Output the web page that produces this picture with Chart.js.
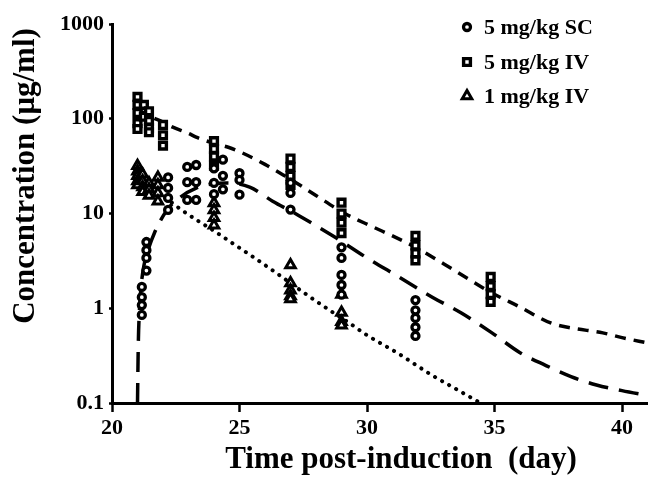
<!DOCTYPE html>
<html><head><meta charset="utf-8">
<script src="https://cdn.jsdelivr.net/npm/chart.js"></script>
<style>html,body{margin:0;padding:0;background:#fff}#wrap{width:656px;height:484px}</style>
</head><body><div id="wrap"><canvas id="c" width="656" height="484"></canvas></div>
<script>
// ---- axis ticks / labels ----
const xTicks = [20, 25, 30, 35, 40];
const yTicks = [0.1, 1, 10, 100, 1000];
const seriesNames = ['5 mg/kg SC', '5 mg/kg IV', '1 mg/kg IV'];
const xTitle = 'Time post-induction  (day)';
const yTitle = 'Concentration (\u03bcg/ml)';

// ---- observed: 5 mg/kg SC (circles) ----
const scDays = [21.17,21.17,21.17,21.17, 21.35,21.35,21.35,21.35, 22.2,22.2,22.2,22.2, 22.95,22.95,22.95, 23.3,23.3,23.3, 24,24,24, 24.35,24.35,24.35, 25,25,25, 27,27,27, 29,29,29,29,29, 31.9,31.9,31.9,31.9,31.9];
const scConc = [0.85,1.08,1.31,1.68, 2.5,3.4,4.1,5.0, 24,18.6,14.6,10.9, 31,21.4,13.9, 32.5,21.4,13.9, 30,21,16, 37,25,18, 26.6,22.6,15.8, 21,16.5,11, 4.4,3.4,2.25,1.76,1.39, 1.22,0.95,0.79,0.63,0.51];

// ---- observed: 5 mg/kg IV (squares) ----
const iv5Days = [21,21,21,21,21, 21.25,21.25, 21.45,21.45,21.45,21.45, 22,22,22, 24,24,24,24, 27,27,27,27, 29,29,29,29, 31.9,31.9,31.9,31.9, 34.85,34.85,34.85,34.85];
const iv5Conc = [170,140,115,90,78, 140,105, 120,95,80,72, 86,67,52, 58,48,40,32, 38,31,25,20, 13,10,8,6.2, 5.8,4.6,3.8,3.2, 2.14,1.71,1.41,1.17];

// ---- observed: 1 mg/kg IV (triangles) ----
const iv1Days = [21,21,21,21,21, 21.2,21.2,21.2,21.2, 21.45,21.45,21.45, 21.8,21.8,21.8,21.8, 24,24,24,24, 27,27,27,27,27, 29,29,29,29];
const iv1Conc = [32,28,25,22,20, 26,22,19,17, 21,18,15.5, 24,20,16.5,13.5, 12.9,10.9,9,7.5, 2.86,1.85,1.55,1.35,1.25, 1.4,0.9,0.72,0.66];

// ---- model curves ----
const scFitDays = [21,21.03,21.08,21.15,21.25,21.4,21.66,22.16,22.7,23.3,23.9,24.5,25.4,26.3,27.3,28.8,30,31.25,32.56,33.7,34.9,36,37,38,39,40,41];
const scFitConc = [0.1,0.4,1.0,1.8,2.8,4.0,6.2,10.9,15,18.5,20.5,21,19,13.5,9.6,5.5,3.4,2.14,1.31,0.89,0.55,0.34,0.25,0.19,0.155,0.135,0.12];

const iv5FitDays = [21,21.5,22,22.36,23,23.3,24,24.56,25,26,26.6,27,28,29.1,30.24,31,31.9,33,34,34.9,36,37.2,38,39.25,40,41];
const iv5FitConc = [125,106,92,82,70,64,55,50,45,33,26.6,23,15.5,10.1,7.2,5.8,4.4,2.95,2.02,1.45,1.03,0.70,0.62,0.55,0.49,0.43];

const iv1FitDays = [21,21.5,22,22.63,23.3,24.06,24.7,25.45,26.5,27.54,28.54,29.3,30,31.25,32.5,33.5,34.45];
const iv1FitConc = [30,21,15.5,11.4,8.6,6.4,4.9,3.6,2.3,1.45,0.95,0.7,0.52,0.33,0.2,0.14,0.1];

const pts = (xs, ys) => xs.map((x, i) => ({x: x, y: ys[i]}));
const FONT = '"Liberation Serif", "Times New Roman", serif';

function scatterDs(label, xs, ys, style, radius, bw) {
  return {type: 'scatter', label: label, data: pts(xs, ys), pointStyle: style, pointRadius: radius,
    pointBorderWidth: bw, pointBackgroundColor: '#fff', pointBorderColor: '#000', showLine: false, order: 0};
}
function lineDs(label, xs, ys, dash, width, cap) {
  return {type: 'line', label: label, data: pts(xs, ys), borderColor: '#000', borderWidth: width,
    borderDash: dash, borderCapStyle: cap, pointRadius: 0, fill: false, tension: 0,
    cubicInterpolationMode: 'monotone', order: 1};
}

function drawMarker(ctx, style, x, y) {
  ctx.save();
  ctx.strokeStyle = '#000'; ctx.fillStyle = '#fff';
  ctx.beginPath();
  if (style === 'circle') { ctx.lineWidth = 3.3; ctx.arc(x, y, 3.5, 0, Math.PI * 2); }
  else if (style === 'rect') { ctx.lineWidth = 3.4; const s = 4.8 * Math.SQRT1_2; ctx.rect(x - s, y - s, 2 * s, 2 * s); }
  else { ctx.lineWidth = 3; const r = 5.5; ctx.moveTo(x, y - r); ctx.lineTo(x + r * 0.866, y + r * 0.5); ctx.lineTo(x - r * 0.866, y + r * 0.5); ctx.closePath(); }
  ctx.fill(); ctx.stroke();
  ctx.restore();
}

const overlay = {
  id: 'overlay',
  afterDraw(chart) {
    const ctx = chart.ctx;
    ctx.save();
    ctx.fillStyle = '#000';
    ctx.font = 'bold 31px ' + FONT;
    ctx.textAlign = 'center'; ctx.textBaseline = 'middle';
    ctx.fillText(xTitle, 401, 460);
    ctx.save();
    ctx.translate(26, 176); ctx.rotate(-Math.PI / 2);
    ctx.fillText(yTitle, 0, 0);
    ctx.restore();
    const styles = ['circle', 'rect', 'triangle'];
    const rows = [27, 62, 96];
    ctx.font = 'bold 22px ' + FONT;
    ctx.textAlign = 'left';
    for (let i = 0; i < 3; i++) {
      drawMarker(ctx, styles[i], 467, rows[i]);
      ctx.fillStyle = '#000';
      ctx.fillText(seriesNames[i], 484, rows[i] + 1);
    }
    ctx.restore();
  }
};

new Chart(document.getElementById('c'), {
  data: {
    datasets: [
      scatterDs(seriesNames[0], scDays, scConc, 'circle', 3.5, 3.3),
      scatterDs(seriesNames[1], iv5Days, iv5Conc, 'rect', 4.8, 3.4),
      scatterDs(seriesNames[2], iv1Days, iv1Conc, 'triangle', 5.5, 3),
      lineDs('SC model', scFitDays, scFitConc, [20, 11], 3.5, 'butt'),
      lineDs('IV 5 model', iv5FitDays, iv5FitConc, [11, 8], 3.5, 'butt'),
      lineDs('IV 1 model', iv1FitDays, iv1FitConc, [0.1, 8], 4, 'round')
    ]
  },
  options: {
    responsive: false, animation: false,
    layout: {padding: {top: 24, right: 0, left: 0, bottom: 0}},
    plugins: {legend: {display: false}, tooltip: {enabled: false}},
    scales: {
      x: {
        type: 'linear', min: 20, max: 41,
        afterBuildTicks: s => { s.ticks = xTicks.map(v => ({value: v})); },
        afterFit: s => { s.height = 81; },
        border: {display: true, color: '#000', width: 3},
        grid: {display: true, drawOnChartArea: false, drawTicks: true, tickLength: 9, tickWidth: 2.5, tickColor: '#000'},
        ticks: {color: '#000', font: {family: FONT, size: 22, weight: 'bold'}, padding: 3, maxRotation: 0, autoSkip: false},
        title: {display: false}
      },
      y: {
        type: 'logarithmic', min: 0.1, max: 1000,
        afterBuildTicks: s => { s.ticks = yTicks.map(v => ({value: v})); },
        afterFit: s => { s.width = 112; },
        border: {display: true, color: '#000', width: 3},
        grid: {display: true, drawOnChartArea: false, drawTicks: true, tickLength: 3, tickWidth: 2.5, tickColor: '#000'},
        ticks: {color: '#000', font: {family: FONT, size: 22, weight: 'bold'}, padding: 5, autoSkip: false,
          callback: v => String(v)},
        title: {display: false}
      }
    }
  },
  plugins: [overlay]
});
</script>
</body></html>
